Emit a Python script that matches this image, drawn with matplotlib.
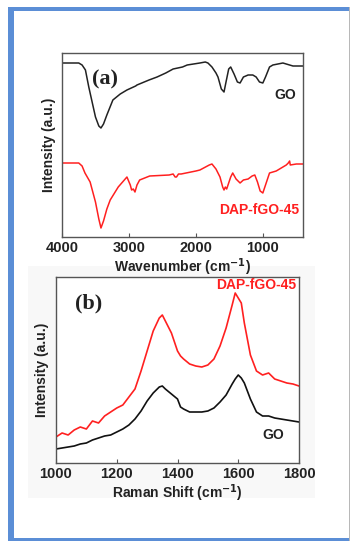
import matplotlib
matplotlib.use('Agg')
import matplotlib.pyplot as plt
from matplotlib.patches import Rectangle

plt.rcParams['font.family'] = 'Liberation Sans'

# FTIR (a)
ir_go_wn = [4000, 3750, 3700, 3650, 3600, 3550, 3500, 3450, 3418, 3380, 3330, 3240, 3130, 3030,
            2900, 2880, 2700, 2580, 2450, 2340, 2200, 2130, 1940, 1860, 1820, 1760, 1700, 1670,
            1620, 1580, 1550, 1510, 1480, 1430, 1380, 1340, 1290, 1220, 1150, 1100, 1050, 1000,
            960, 900, 850, 700, 600, 550, 400]
ir_go = [174, 174, 172, 167, 150, 135, 120, 111, 109, 113, 122, 137, 143, 147,
         151, 152, 157, 160, 164, 168, 170, 172, 174, 175, 174, 170, 164, 160,
         148, 145, 155, 168, 170, 163, 155, 154, 160, 162, 162, 160, 155, 154,
         160, 170, 172, 174, 172, 171, 171]

ir_dap_wn = [4000, 3750, 3700, 3657, 3580, 3500, 3450, 3418, 3380, 3330, 3280, 3160, 3030, 2980,
             2960, 2935, 2910, 2880, 2840, 2690, 2400, 2340, 2310, 2290, 2260, 2220, 2000, 1940,
             1800, 1760, 1700, 1640, 1600, 1580, 1560, 1540, 1520, 1480, 1450, 1400, 1340, 1290,
             1220, 1160, 1120, 1080, 1040, 1000, 960, 900, 800, 750, 650, 620, 600, 590, 500, 400]
ir_dap = [74, 74, 71, 64, 55, 35, 18, 9, 16, 28, 37, 50, 60, 52,
          47, 48, 45, 52, 57, 61, 62, 63, 60, 60, 63, 63, 66, 67,
          72, 73, 68, 60, 50, 47, 50, 48, 52, 60, 64, 58, 54, 57,
          58, 61, 62, 55, 46, 44, 52, 64, 66, 68, 72, 74, 76, 72, 73, 73]

# Raman (b)
ram_shift = [1000, 1020, 1040, 1060, 1080, 1100, 1120, 1140, 1160, 1180, 1200, 1220, 1240, 1260,
             1280, 1300, 1320, 1340, 1350, 1360, 1380, 1400, 1410, 1420, 1440, 1460, 1480, 1500,
             1520, 1540, 1560, 1580, 1590, 1600, 1610, 1620, 1640, 1660, 1680, 1700, 1720, 1740,
             1760, 1780, 1800]
ram_dap = [26, 30, 28, 33, 36, 34, 42, 40, 47, 51, 55, 58, 66, 74,
           92, 112, 132, 145, 148, 142, 130, 112, 107, 104, 99, 97, 96, 98,
           104, 117, 135, 158, 170, 165, 160, 140, 108, 92, 88, 90, 84, 82,
           80, 79, 77]
ram_go = [14, 15, 16, 17, 19, 20, 23, 25, 27, 28, 31, 34, 38, 44,
          52, 62, 70, 76, 77, 74, 69, 64, 56, 54, 51, 51, 51, 52,
          55, 61, 68, 79, 84, 88, 85, 80, 64, 51, 47, 47, 45, 44,
          43, 42, 41]

W, H = 352, 543
fig = plt.figure(figsize=(W / 100, H / 100), dpi=100)

def fx(px):
    return px / W

def fy(py):
    return 1 - py / H

# page decoration
fig.patches.append(Rectangle((fx(28), fy(498)), fx(287), (498 - 266) / H, transform=fig.transFigure,
                             facecolor='#f8f8f8', edgecolor='none', zorder=-5))
blue = '#5b8ed6'
fig.patches.append(Rectangle((fx(8), fy(541)), fx(6), (541 - 7) / H, transform=fig.transFigure,
                             facecolor=blue, edgecolor='none'))
fig.patches.append(Rectangle((fx(8), fy(11)), fx(342), 4 / H, transform=fig.transFigure,
                             facecolor=blue, edgecolor='none'))
fig.patches.append(Rectangle((fx(8), fy(541)), fx(342), 3 / H, transform=fig.transFigure,
                             facecolor=blue, edgecolor='none'))
fig.patches.append(Rectangle((fx(349), fy(541)), fx(1.2), (541 - 7) / H, transform=fig.transFigure,
                             facecolor='#b8b8b8', edgecolor='none'))

spine_col = '#555555'

def style(ax):
    for s in ax.spines.values():
        s.set_color(spine_col)
        s.set_linewidth(1.0)
    ax.set_yticks([])
    ax.tick_params(axis='x', direction='in', length=3, color=spine_col, pad=3)
    for lab in ax.get_xticklabels():
        lab.set_fontsize(10.5)
        lab.set_fontweight('bold')
        lab.set_color('#222222')
    ax.set_facecolor('white')

# panel (a)
ax1 = fig.add_axes([fx(62), fy(237), fx(241), 184 / H])
ax1.plot(ir_go_wn, ir_go, color='#222222', lw=1.1)
ax1.plot(ir_dap_wn, ir_dap, color='#ff2020', lw=1.1)
ax1.set_xlim(4000, 400)
ax1.set_ylim(0, 184)
ax1.set_xticks([4000, 3000, 2000, 1000])
style(ax1)
ax1.set_xlabel('Wavenumber (cm$^{\\mathbf{-1}}$)', fontsize=10, fontweight='bold', color='#222222', labelpad=1)
ax1.set_ylabel('Intensity (a.u.)', fontsize=10, fontweight='bold', color='#222222', labelpad=4)
ax1.text(0.125, 0.83, '(a)', transform=ax1.transAxes, family='Liberation Serif',
         fontsize=16, fontweight='bold', color='#222222')
ax1.text(0.97, 0.77, 'GO', transform=ax1.transAxes, ha='right', va='center',
         fontsize=10, fontweight='bold', color='#222222')
ax1.text(0.985, 0.147, 'DAP-fGO-45', transform=ax1.transAxes, ha='right', va='center',
         fontsize=10, fontweight='bold', color='#ff2020')

# panel (b)
ax2 = fig.add_axes([fx(56), fy(463), fx(243), 186 / H])
ax2.plot(ram_shift, ram_go, color='#111111', lw=1.2)
ax2.plot(ram_shift, ram_dap, color='#ff2020', lw=1.2)
ax2.set_xlim(1000, 1800)
ax2.set_ylim(0, 186)
ax2.set_xticks([1000, 1200, 1400, 1600, 1800])
style(ax2)
ax2.set_xlabel('Raman Shift (cm$^{\\mathbf{-1}}$)', fontsize=10, fontweight='bold', color='#222222', labelpad=1)
ax2.set_ylabel('Intensity (a.u.)', fontsize=10, fontweight='bold', color='#222222', labelpad=5)
ax2.text(0.08, 0.83, '(b)', transform=ax2.transAxes, family='Liberation Serif',
         fontsize=16, fontweight='bold', color='#222222')
ax2.text(0.99, 0.955, 'DAP-fGO-45', transform=ax2.transAxes, ha='right', va='center',
         fontsize=10, fontweight='bold', color='#ff2020')
ax2.text(0.94, 0.15, 'GO', transform=ax2.transAxes, ha='right', va='center',
         fontsize=10, fontweight='bold', color='#222222')

fig.savefig('out.png', dpi=100, facecolor='white')
